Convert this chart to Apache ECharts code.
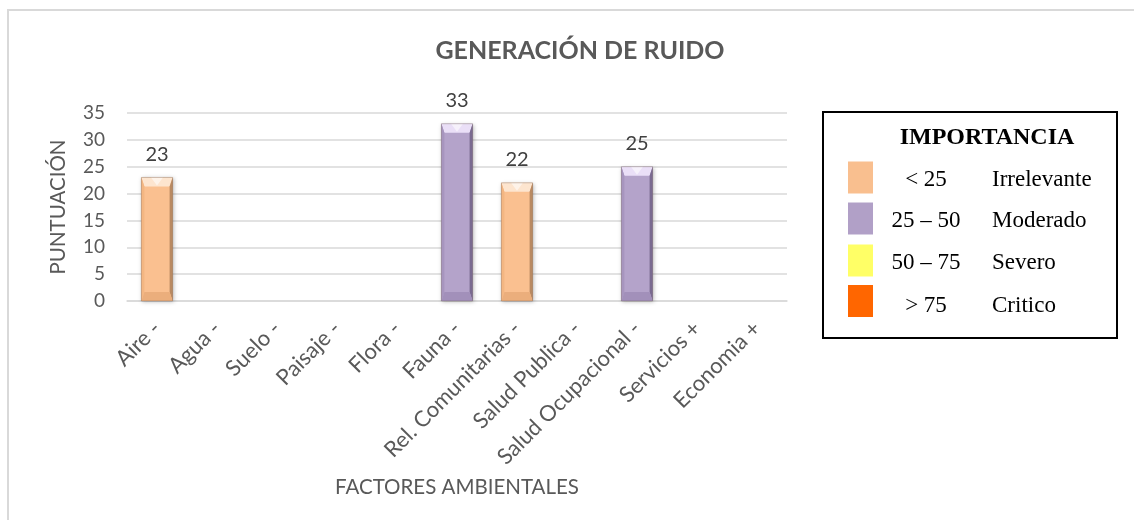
<!DOCTYPE html>
<html>
<head>
<meta charset="utf-8">
<title>Generación de ruido</title>
<script src="https://cdn.jsdelivr.net/npm/echarts@6/dist/echarts.min.js"></script>
<style>
  html, body { margin: 0; padding: 0; background: #ffffff; }
  #chart { width: 1134px; height: 520px; }
</style>
</head>
<body>
<div id="chart"></div>
<script>
// Environmental factors and their noise-impact scores
const factores = ['Aire -', 'Agua -', 'Suelo -', 'Paisaje -', 'Flora -', 'Fauna -',
  'Rel. Comunitarias -', 'Salud Publica -', 'Salud Ocupacional -', 'Servicios +', 'Economia +'];
const puntuacion = [23, 0, 0, 0, 0, 33, 22, 0, 25, 0, 0];

// Importance scale shown in the side key
const rangos = ['< 25', '25 \u2013 50', '50 \u2013 75', '> 75'];
const niveles = ['Irrelevante', 'Moderado', 'Severo', 'Critico'];
const limites = [25, 50, 75];
const coloresNivel = ['#F9BF8F', '#B1A0C7', '#FFFF66', '#FF6600'];

// Facet shades for the bevelled bars, per importance level
const facetas = [
  { main: '#FAC090', top: '#FDE5CF', left: '#F3B682', right: '#B98A62', bottom: '#EBAE7C' },
  { main: '#B4A3CA', top: '#EADFF7', left: '#A795BE', right: '#7A6A90', bottom: '#A290BA' },
  { main: '#FFFF66', top: '#FFFFCC', left: '#F0F05A', right: '#BDBD40', bottom: '#E8E855' },
  { main: '#FF6600', top: '#FFB380', left: '#F05F00', right: '#B34700', bottom: '#E85C00' }
];

function nivelDe(v) {
  let i = 0;
  while (i < limites.length && v >= limites[i]) i++;
  return i;
}

const chart = echarts.init(document.getElementById('chart'));

const grisTexto = '#595959';
const fuente = 'Lato, "Open Sans", sans-serif';
const serif = '"Liberation Serif", "Times New Roman", serif';

function renderBar(params, api) {
  const v = api.value(1);
  if (!v) return null;
  const idx = api.value(0);
  const top = api.coord([idx, v]);
  const base = api.coord([idx, 0]);
  const bw = api.size([1, 0])[0] * 0.52;
  const x0 = top[0] - bw / 2, x1 = top[0] + bw / 2;
  const yt = top[1], yb = base[1];
  const d = 9, s = 3;
  const f = facetas[nivelDe(v)];
  return {
    type: 'group',
    children: [
      {
        type: 'rect',
        shape: { x: x0, y: yt, width: bw, height: yb - yt },
        style: { fill: f.main, shadowBlur: 4, shadowColor: 'rgba(0,0,0,0.25)', shadowOffsetX: 1, shadowOffsetY: 1 },
        textContent: {
          style: { text: String(v), fill: '#404040', fontSize: 20, fontFamily: fuente }
        },
        textConfig: { position: 'top', distance: 13 }
      },
      { type: 'polygon', shape: { points: [[x0, yt], [x1, yt], [x1 - s, yt + d], [x0 + s, yt + d]] },
        style: { fill: f.top } },
      { type: 'polygon', shape: { points: [[x0 + bw / 2 - 6, yt], [x0 + bw / 2 + 6, yt], [x0 + bw / 2, yt + d - 1]] },
        style: { fill: 'rgba(255,255,255,0.55)' } },
      { type: 'polygon', shape: { points: [[x0, yt], [x0 + s, yt + d], [x0 + s, yb - d], [x0, yb]] },
        style: { fill: f.left } },
      { type: 'polygon', shape: { points: [[x1, yt], [x1 - s, yt + d], [x1 - s, yb - d], [x1, yb]] },
        style: { fill: f.right } },
      { type: 'polygon', shape: { points: [[x0, yb], [x1, yb], [x1 - s, yb - d], [x0 + s, yb - d]] },
        style: { fill: f.bottom } },
      { type: 'rect', shape: { x: x0, y: yt, width: bw, height: yb - yt },
        style: { fill: 'none', stroke: 'rgba(90,70,60,0.35)', lineWidth: 0.8 } }
    ]
  };
}

// Side key built from the importance arrays
const keyX = 823, keyY = 112, keyW = 294, keyH = 226;
const swatchY = [177.5, 218.5, 260.5, 301];
const textoY = [180, 221, 263, 306];
const graficosClave = [
  { type: 'rect', shape: { x: 8, y: 10, width: 1140, height: 520 },
    style: { fill: 'none', stroke: '#D9D9D9', lineWidth: 2 }, z: 0 },
  { type: 'rect', shape: { x: keyX, y: keyY, width: keyW, height: keyH },
    style: { fill: '#ffffff', stroke: '#000000', lineWidth: 2 }, z: 5 },
  { type: 'text', x: 987, y: 138, z: 6,
    style: { text: 'IMPORTANCIA', fill: '#000000', font: 'bold 24px ' + serif,
      textAlign: 'center', textVerticalAlign: 'middle' } }
];
rangos.forEach(function (r, i) {
  graficosClave.push({ type: 'rect', z: 6, shape: { x: 848, y: swatchY[i] - 16, width: 25, height: 32 },
    style: { fill: coloresNivel[i] } });
  graficosClave.push({ type: 'text', z: 6, x: 926, y: textoY[i],
    style: { text: r, fill: '#000000', font: '23px ' + serif,
      textAlign: 'center', textVerticalAlign: 'middle' } });
  graficosClave.push({ type: 'text', z: 6, x: 992, y: textoY[i],
    style: { text: niveles[i], fill: '#000000', font: '23px ' + serif,
      textAlign: 'left', textVerticalAlign: 'middle' } });
});

chart.setOption({
  animation: false,
  backgroundColor: '#ffffff',
  title: {
    text: 'GENERACIÓN DE RUIDO',
    left: 575, top: 33, textAlign: 'center',
    textStyle: { color: grisTexto, fontSize: 25, fontWeight: 'bold', fontFamily: fuente }
  },
  grid: { left: 127, right: 347, top: 113, bottom: 219 },
  xAxis: {
    type: 'category',
    data: factores,
    name: 'FACTORES AMBIENTALES',
    nameLocation: 'middle',
    nameGap: 176,
    nameTextStyle: { color: grisTexto, fontSize: 20.5, fontFamily: fuente },
    axisLine: { show: true, lineStyle: { color: '#D9D9D9', width: 1.5 } },
    axisTick: { show: false },
    axisLabel: { rotate: 45, interval: 0, margin: 24, color: grisTexto, fontSize: 22, fontFamily: fuente }
  },
  yAxis: {
    type: 'value',
    min: 0, max: 35, interval: 5,
    name: 'PUNTUACIÓN',
    nameLocation: 'middle',
    nameGap: 58,
    nameTextStyle: { color: grisTexto, fontSize: 20.5, fontFamily: fuente },
    axisLine: { show: false },
    axisTick: { show: false },
    axisLabel: { margin: 22, color: grisTexto, fontSize: 19, fontFamily: fuente },
    splitLine: { lineStyle: { color: '#D9D9D9', width: 1.5 } }
  },
  series: [{
    type: 'custom',
    renderItem: renderBar,
    encode: { x: 0, y: 1 },
    data: puntuacion.map(function (v, i) { return [i, v]; }),
    z: 3
  }],
  graphic: graficosClave
});
</script>
</body>
</html>
